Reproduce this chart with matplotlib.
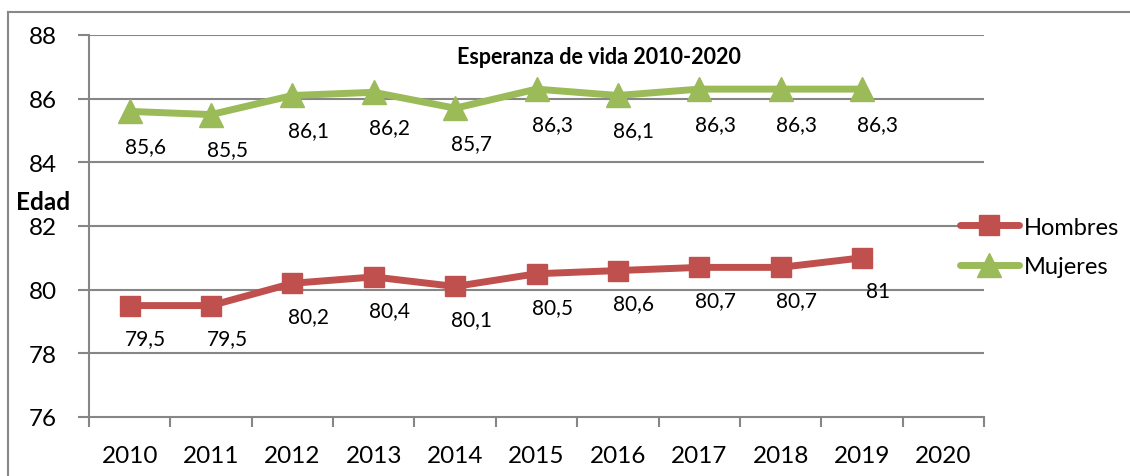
import matplotlib
matplotlib.use("Agg")
import matplotlib.pyplot as plt
from matplotlib.lines import Line2D

plt.rcParams['font.family'] = ['Lato', 'DejaVu Sans']

years = ['2010', '2011', '2012', '2013', '2014', '2015', '2016', '2017', '2018', '2019', '2020']
hombres = [79.5, 79.5, 80.2, 80.4, 80.1, 80.5, 80.6, 80.7, 80.7, 81.0]
mujeres = [85.6, 85.5, 86.1, 86.2, 85.7, 86.3, 86.1, 86.3, 86.3, 86.3]
yticks = [76, 78, 80, 82, 84, 86, 88]

W, H = 1130, 477
fig = plt.figure(figsize=(W / 100, H / 100), dpi=100)
ax = fig.add_axes([89 / W, (H - 418) / H, (984 - 89) / W, (418 - 36) / H])

red = '#C0504D'
green = '#9BBB59'
grid = '#868686'

x = list(range(len(hombres)))
ax.plot(x, hombres, color=red, lw=5, marker='s', ms=15, solid_capstyle='round',
        zorder=3, label='Hombres')
ax.plot(x, mujeres, color=green, lw=5, marker='^', ms=17, solid_capstyle='round',
        zorder=3, label='Mujeres')

def fmt(v):
    return ('%g' % v).replace('.', ',')

for xi, v in zip(x, hombres):
    ax.annotate(fmt(v), (xi, v), xytext=(16, -33), textcoords='offset pixels',
                ha='center', va='center', fontsize=15, color='black', zorder=4)
for xi, v in zip(x, mujeres):
    ax.annotate(fmt(v), (xi, v), xytext=(16, -35), textcoords='offset pixels',
                ha='center', va='center', fontsize=15, color='black', zorder=4)

ax.set_xlim(-0.5, len(years) - 0.5)
ax.set_ylim(76, 88)
ax.set_yticks(yticks)
ax.set_yticklabels([str(t) for t in yticks], fontsize=17.5)
ax.set_xticks(range(len(years)))
ax.set_xticklabels(years, fontsize=17.5)
ax.set_xticks([i - 0.5 for i in range(len(years) + 1)], minor=True)
ax.tick_params(axis='x', which='major', length=0, pad=20)
ax.tick_params(axis='x', which='minor', length=7, width=1.5, color=grid)
ax.tick_params(axis='y', length=8, width=1.5, color=grid, pad=15)

for yv in yticks[1:]:
    ax.axhline(yv, color=grid, lw=1.5, zorder=1)

for s in ['top', 'right']:
    ax.spines[s].set_visible(False)
for s in ['left', 'bottom']:
    ax.spines[s].set_color(grid)
    ax.spines[s].set_linewidth(1.5)

fig.text(599 / W, 1 - 57 / H, 'Esperanza de vida 2010-2020', ha='center', va='center',
         fontsize=15.5, fontweight='bold')
fig.text(16 / W, 1 - 203 / H, 'Edad', ha='left', va='center', fontsize=17.5, fontweight='bold')

handles = [Line2D([0], [0], color=red, lw=5, marker='s', ms=15, solid_capstyle='round'),
           Line2D([0], [0], color=green, lw=5, marker='^', ms=17, solid_capstyle='round')]
fig.legend(handles, ['Hombres', 'Mujeres'], loc='center left',
           bbox_to_anchor=(948 / W, 1 - 248 / H), frameon=False, fontsize=17,
           handlelength=2.5, handletextpad=0.2, labelspacing=0.8, borderpad=0)

# outer chart border (partially cropped)
fig.add_artist(Line2D([8 / W, 8 / W], [0, 1 - 13 / H], color='#888888', lw=1.5,
                      transform=fig.transFigure))
fig.add_artist(Line2D([8 / W, 1], [1 - 13 / H, 1 - 13 / H], color='#888888', lw=1.5,
                      transform=fig.transFigure))

fig.savefig('out.png', dpi=100)
